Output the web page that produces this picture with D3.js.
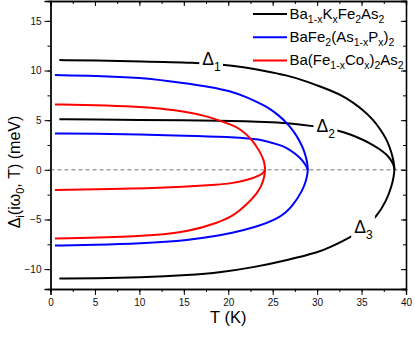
<!DOCTYPE html>
<html>
<head>
<meta charset="utf-8">
<script src="https://cdn.jsdelivr.net/npm/d3@7"></script>
<style>
  html, body { margin: 0; padding: 0; background: #fff; }
  svg { display: block; font-family: "Liberation Sans", Arial, sans-serif; }
</style>
</head>
<body>
<svg id="chart" width="415" height="339"></svg>
<script>
// ---------------- data ----------------
const xTicks = [0, 5, 10, 15, 20, 25, 30, 35, 40];
const yTicks = [-10, -5, 0, 5, 10, 15];

// Ba1-xKxFe2As2 (black)
const kDelta1T = [1, 5, 10, 16.5, 19.4, 22, 24, 26.6, 28.5, 30.3, 31.4, 33, 34, 35.2, 36.3, 37.1, 37.8, 38.2, 38.5, 38.65, 38.7];
const kDelta1V = [11.05, 11.0, 10.93, 10.8, 10.6, 10.3, 9.98, 9.52, 9.0, 8.4, 8.03, 7.4, 6.8, 6.0, 5.05, 4.1, 3.1, 2.2, 1.3, 0.6, 0];
const kDelta2T = [1, 5, 10, 15, 19, 22, 24, 26.6, 29.5, 32.4, 33.8, 35.2, 36.2, 37.1, 37.8, 38.2, 38.5, 38.65, 38.7];
const kDelta2V = [5.1, 5.07, 5.03, 4.98, 4.94, 4.88, 4.82, 4.72, 4.42, 4.0, 3.55, 3.02, 2.55, 2.05, 1.55, 1.12, 0.7, 0.35, 0];
const kDelta3T = [1, 5, 10, 15.7, 19.1, 23, 26.6, 30.3, 31.4, 33.9, 35.3, 36.7, 37.8, 38.4, 38.62, 38.7];
const kDelta3V = [-10.94, -10.92, -10.84, -10.6, -10.33, -9.8, -9.1, -8.26, -7.8, -6.75, -5.8, -4.73, -3.1, -1.6, -0.7, 0];

// BaFe2(As1-xPx)2 (blue)
const pUpperT = [0.5, 5, 10, 15, 18, 20.2, 22, 23.9, 24.7, 25.8, 26.6, 27.4, 28.1, 28.55, 28.8, 28.92, 28.95];
const pUpperV = [9.54, 9.48, 9.3, 8.75, 8.35, 7.95, 7.35, 6.55, 6.15, 5.4, 4.7, 3.85, 2.8, 1.9, 1.1, 0.5, 0];
const pMiddleT = [0.5, 5, 10, 15, 20.2, 22.8, 23.9, 25.8, 26.6, 27.5, 28.1, 28.55, 28.8, 28.95];
const pMiddleV = [3.66, 3.63, 3.55, 3.45, 3.3, 3.12, 3.0, 2.5, 2.22, 1.65, 1.2, 0.7, 0.35, 0];
const pLowerT = [0.5, 5, 10, 15.7, 19.06, 20.2, 22.8, 25.8, 27.3, 28.4, 28.75, 28.9, 28.95];
const pLowerV = [-7.62, -7.55, -7.42, -7.08, -6.6, -6.4, -5.85, -4.9, -3.6, -2.0, -1.1, -0.5, 0];

// Ba(Fe1-xCox)2As2 (red)
const coUpperT = [0.5, 5, 10, 12, 15.7, 17.5, 18.7, 20.2, 21.3, 22.6, 23.6, 24.0, 24.12, 24.15];
const coUpperV = [6.58, 6.52, 6.36, 6.22, 5.8, 5.4, 5.05, 4.6, 4.15, 3.15, 1.8, 0.95, 0.4, 0];
const coMiddleT = [0.5, 10, 15, 19.06, 20.2, 22.1, 23.6, 24.05, 24.15];
const coMiddleV = [-2.04, -1.88, -1.7, -1.47, -1.38, -1.05, -0.55, -0.2, 0];
const coLowerT = [0.5, 10, 15.7, 19.06, 20.2, 21.3, 22.4, 23.2, 23.75, 24.05, 24.15];
const coLowerV = [-6.91, -6.75, -6.24, -5.24, -4.78, -4.1, -3.2, -2.4, -1.6, -0.75, 0];

const legendLabels = [
  [["Ba", 0], ["1-x", 1], ["K", 0], ["x", 1], ["Fe", 0], ["2", 1], ["As", 0], ["2", 1]],
  [["BaFe", 0], ["2", 1], ["(As", 0], ["1-x", 1], ["P", 0], ["x", 1], [")", 0], ["2", 1]],
  [["Ba(Fe", 0], ["1-x", 1], ["Co", 0], ["x", 1], [")", 0], ["2", 1], ["As", 0], ["2", 1]]
];
const seriesColors = ["#000000", "#0000ff", "#ff0000"];

// curve labels (data coordinates of the label's left baseline)
const curveLabels = [
  { sub: "1", T: 17.08, v: 10.54 },
  { sub: "2", T: 29.94, v: 3.8 },
  { sub: "3", T: 34.17, v: -6.37 }
];

// ---------------- chart ----------------
const svg = d3.select("#chart");
const x = d3.scaleLinear().domain([0, 40]).range([50.5, 406]);
const y = d3.scaleLinear().domain([-12, 17]).range([289, 1]);

const zip = (T, V) => T.map((t, i) => [t, V[i]]);
const series = [
  { c: 0, d: zip(kDelta1T, kDelta1V) },
  { c: 0, d: zip(kDelta2T, kDelta2V) },
  { c: 0, d: zip(kDelta3T, kDelta3V) },
  { c: 1, d: zip(pUpperT, pUpperV) },
  { c: 1, d: zip(pMiddleT, pMiddleV) },
  { c: 1, d: zip(pLowerT, pLowerV) },
  { c: 2, d: zip(coUpperT, coUpperV) },
  { c: 2, d: zip(coMiddleT, coMiddleV) },
  { c: 2, d: zip(coLowerT, coLowerV) }
];

// zero dashed line
svg.append("line")
  .attr("x1", x(0)).attr("x2", x(40))
  .attr("y1", y(0)).attr("y2", y(0))
  .attr("stroke", "#666").attr("stroke-width", 0.9)
  .attr("stroke-dasharray", "4,3");

const line = d3.line().x(d => x(d[0])).y(d => y(d[1])).curve(d3.curveBasis);
svg.append("g").selectAll("path").data(series).join("path")
  .attr("d", s => line(s.d))
  .attr("fill", "none")
  .attr("stroke", s => seriesColors[s.c])
  .attr("stroke-width", 2);

// helper for text with subscripts
function richText(sel, parts, size, subSize, shift) {
  parts.forEach(([t, sub], i) => {
    const prevSub = i > 0 && parts[i - 1][1];
    let dy = 0;
    if (sub && !prevSub) dy = shift;
    if (!sub && prevSub) dy = -shift;
    sel.append("tspan").text(t)
      .attr("font-size", sub ? subSize : size)
      .attr("dy", dy);
  });
}

// curve labels with knockout background
curveLabels.forEach(l => {
  const g = svg.append("g");
  const bg = g.append("rect").attr("fill", "#fff");
  const t = g.append("text").attr("x", x(l.T)).attr("y", y(l.v)).attr("fill", "#000");
  richText(t, [["\u0394", 0], [l.sub, 1]], 17.5, 12, 6);
  const bb = t.node().getBBox();
  bg.attr("x", bb.x - 3).attr("y", bb.y - 2).attr("width", bb.width + 5).attr("height", bb.height + 3);
});

// axes
const axG = svg.append("g").attr("font-size", 10);
const styleAxis = g => {
  g.select(".domain").attr("stroke", "#000").attr("stroke-width", 1.3);
  g.selectAll(".tick line").attr("stroke", "#000").attr("stroke-width", 1);
  g.selectAll(".tick text").attr("fill", "#111").attr("font-family", "Liberation Sans, Arial, sans-serif").attr("font-size", 10);
};
const xMinor = d3.range(0, 40.01, 2.5);
const yMinor = d3.range(-10, 15.01, 2.5);

// minor ticks
axG.append("g").attr("transform", `translate(0,${y(-12)})`)
  .call(d3.axisBottom(x).tickValues(xMinor).tickSize(3).tickFormat("")).call(styleAxis);
axG.append("g").attr("transform", `translate(${x(0)},0)`)
  .call(d3.axisLeft(y).tickValues(yMinor).tickSize(3).tickFormat("")).call(styleAxis);
axG.append("g").attr("transform", `translate(0,${y(17)})`)
  .call(d3.axisTop(x).tickValues(xMinor).tickSize(-3).tickFormat("")).call(styleAxis);
axG.append("g").attr("transform", `translate(${x(40)},0)`)
  .call(d3.axisRight(y).tickValues(yMinor).tickSize(-3).tickFormat("")).call(styleAxis);

// major ticks
axG.append("g").attr("transform", `translate(0,${y(-12)})`)
  .call(d3.axisBottom(x).tickValues(xTicks).tickSize(6).tickPadding(4).tickFormat(d3.format("d"))).call(styleAxis);
axG.append("g").attr("transform", `translate(${x(0)},0)`)
  .call(d3.axisLeft(y).tickValues(yTicks).tickSize(6).tickPadding(3).tickFormat(d3.format("d"))).call(styleAxis);
axG.append("g").attr("transform", `translate(0,${y(17)})`)
  .call(d3.axisTop(x).tickValues(xTicks).tickSize(-5).tickFormat("")).call(styleAxis);
axG.append("g").attr("transform", `translate(${x(40)},0)`)
  .call(d3.axisRight(y).tickValues(yTicks).tickSize(-5).tickFormat("")).call(styleAxis);

// axis titles
svg.append("text").attr("x", (x(0) + x(40)) / 2).attr("y", 323)
  .attr("text-anchor", "middle").attr("font-size", 16.5).attr("fill", "#000").text("T (K)");

const yl = svg.append("text")
  .attr("transform", `translate(20,${172}) rotate(-90)`)
  .attr("text-anchor", "middle").attr("fill", "#000");
richText(yl, [["\u0394", 0], ["i", 1], ["(i\u03c9", 0], ["0", 1], [", T)  (meV)", 0]], 16, 11, 4);

// legend
const lg = svg.append("g");
legendLabels.forEach((parts, i) => {
  const yy = 14 + i * 23.2;
  lg.append("line").attr("x1", 253).attr("x2", 287).attr("y1", yy).attr("y2", yy)
    .attr("stroke", seriesColors[i]).attr("stroke-width", 2);
  const t = lg.append("text").attr("x", 289.5).attr("y", yy + 5).attr("fill", "#000");
  richText(t, parts, 15, 10.5, 4);
});
</script>
</body>
</html>
